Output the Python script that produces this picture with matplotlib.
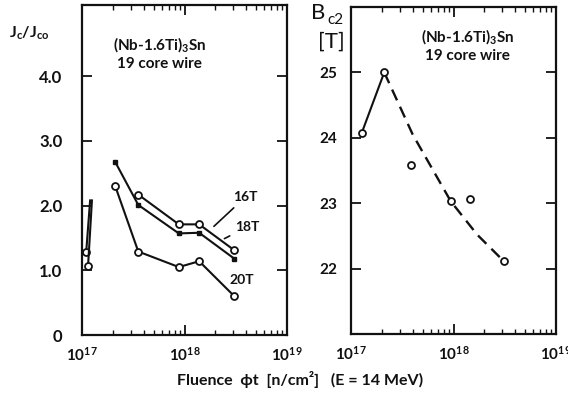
import matplotlib
matplotlib.use("Agg")
import matplotlib.pyplot as plt
from matplotlib.ticker import LogLocator, NullFormatter, FixedLocator

plt.rcParams['font.family'] = ['Lato', 'DejaVu Sans']
plt.rcParams['font.weight'] = 'bold'
plt.rcParams['mathtext.fontset'] = 'custom'
plt.rcParams['mathtext.rm'] = 'Lato:bold'
plt.rcParams['mathtext.it'] = 'Lato:bold'
plt.rcParams['mathtext.bf'] = 'Lato:bold'

# ---- Jc/Jco versus fluence ----
stub_a_x = [1.10e17, 1.20e17]
stub_a_y = [1.29, 2.08]
stub_b_x = [1.145e17, 1.25e17]
stub_b_y = [1.06, 2.08]

fluence_16T = [3.54e17, 8.8e17, 1.39e18, 3.06e18]
jc_16T = [2.17, 1.71, 1.71, 1.31]
fluence_18T = [2.1e17, 3.54e17, 8.8e17, 1.39e18, 3.06e18]
jc_18T = [2.68, 2.01, 1.57, 1.58, 1.18]
fluence_20T = [2.1e17, 3.54e17, 8.8e17, 1.39e18, 3.06e18]
jc_20T = [2.31, 1.29, 1.05, 1.14, 0.60]

jc_ticks = [0, 1, 2, 3, 4]
jc_ticklabels = ["0", "1.0", "2.0", "3.0", "4.0"]

# ---- Bc2 versus fluence ----
fluence_b = [1.27e17, 2.11e17, 3.85e17, 9.4e17, 1.45e18, 3.11e18]
bc2 = [24.07, 25.0, 23.59, 23.03, 23.07, 22.11]
fit_x = [2.11e17, 4.0e17, 9.4e17, 1.7e18, 3.11e18]
fit_y = [25.0, 24.05, 23.03, 22.52, 22.11]
bc2_ticks = [22, 23, 24, 25]

x_ticks = [1e17, 1e18, 1e19]
x_ticklabels = [r"$10^{17}$", r"$10^{18}$", r"$10^{19}$"]

W, H = 568, 394
fig = plt.figure(figsize=(W / 100, H / 100), dpi=100)
ax1 = fig.add_axes([82 / W, 1 - 335 / H, 205 / W, 330 / H])
ax2 = fig.add_axes([351 / W, 1 - 334 / H, 205 / W, 327 / H])

ink = "#111111"
for ax in (ax1, ax2):
    ax.set_xscale("log")
    ax.set_xlim(1e17, 1e19)
    for s in ax.spines.values():
        s.set_linewidth(1.6)
        s.set_color(ink)
    ax.xaxis.set_major_locator(FixedLocator(x_ticks))
    ax.set_xticklabels(x_ticklabels)
    ax.xaxis.set_minor_locator(LogLocator(base=10, subs=range(2, 10)))
    ax.xaxis.set_minor_formatter(NullFormatter())
    ax.tick_params(which="major", direction="in", length=7, width=1.3,
                   top=True, right=True, colors=ink, labelsize=11)
    ax.tick_params(which="minor", direction="in", length=3.5, width=1.0,
                   top=True, colors=ink)
    ax.tick_params(axis="x", pad=8)
    ax.tick_params(axis="y", which="minor", left=False, right=False)

kw_line = dict(color=ink, lw=1.5)
kw_circ = dict(marker="o", ms=5, mfc="white", mec=ink, mew=1.3)

ax1.plot(stub_a_x, stub_a_y, **kw_line, **kw_circ, markevery=[0])
ax1.plot(stub_b_x, stub_b_y, **kw_line, **kw_circ, markevery=[0])
ax1.plot(fluence_16T, jc_16T, **kw_line, **kw_circ)
ax1.plot(fluence_18T, jc_18T, **kw_line, marker="s", ms=2.5, mfc=ink, mec=ink)
ax1.plot(fluence_20T, jc_20T, **kw_line, **kw_circ)
ax1.set_ylim(0, 5.1)
ax1.set_yticks(jc_ticks)
ax1.set_yticklabels(jc_ticklabels)
ax1.tick_params(axis="y", pad=14, labelsize=12)

lab_kw = dict(fontsize=10, fontweight="bold", color=ink)
arrow = dict(arrowstyle="-", color=ink, lw=1.2)
ax1.annotate("16T", xy=(1.85e18, 1.65), xytext=(2.97e18, 2.13),
             ha="left", va="center", arrowprops=arrow, **lab_kw)
ax1.annotate("18T", xy=(2.32e18, 1.47), xytext=(3.11e18, 1.67),
             ha="left", va="center", arrowprops=arrow, **lab_kw)
ax1.text(3.64e18, 0.85, "20T", ha="center", va="center", **lab_kw)

ax1.text(0.38, 0.88, r"(Nb-1.6Ti)$_3$Sn", transform=ax1.transAxes,
         ha="center", va="center", fontsize=11, color=ink)
ax1.text(0.38, 0.82, "19 core wire", transform=ax1.transAxes,
         ha="center", va="center", fontsize=11, color=ink)
fig.text(29 / W, 1 - 33 / H, r"J$_c$/J$_{co}$", ha="center", va="center",
         fontsize=11.5, color=ink)

ax2.plot(fluence_b[:2], bc2[:2], **kw_line)
ax2.plot(fit_x, fit_y, color=ink, lw=1.7, dashes=(5, 3))
ax2.plot(fluence_b, bc2, ls="none", **kw_circ)
ax2.set_ylim(21, 26)
ax2.set_yticks(bc2_ticks)
ax2.tick_params(axis="y", pad=10, labelsize=11)

ax2.text(0.57, 0.91, r"(Nb-1.6Ti)$_3$Sn", transform=ax2.transAxes,
         ha="center", va="center", fontsize=11, color=ink)
ax2.text(0.57, 0.85, "19 core wire", transform=ax2.transAxes,
         ha="center", va="center", fontsize=11, color=ink)

# B_c2 axis title, written as main letter plus lowered subscript
fig.text(311 / W, 1 - 19 / H, "B", ha="left", va="baseline",
         fontsize=16, fontweight="normal", color=ink)
fig.text(327 / W, 1 - 24 / H, "c2", ha="left", va="baseline",
         fontsize=11, fontweight="normal", color=ink)
fig.text(331 / W, 1 - 42 / H, "[T]", ha="center", va="center",
         fontsize=16, fontweight="normal", color=ink)

fig.text(300 / W, 1 - 380 / H, "Fluence  ϕt  [n/cm²]   (E = 14 MeV)",
         ha="center", va="center", fontsize=11.5, color=ink)

fig.savefig("out.png", dpi=100, facecolor="white")
